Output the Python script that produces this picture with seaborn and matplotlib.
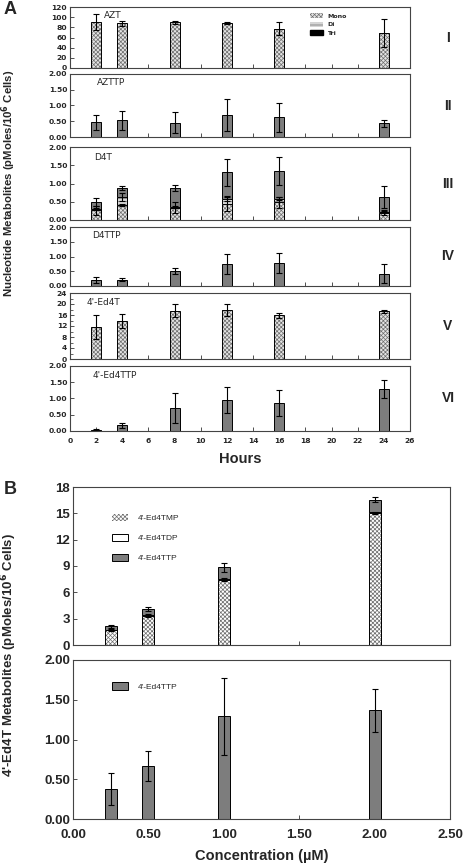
import numpy as np
import pandas as pd
import matplotlib
matplotlib.use("Agg")
import matplotlib.pyplot as plt
import matplotlib.transforms as mtransforms
import seaborn as sns
from matplotlib.patches import Patch
from matplotlib.ticker import MultipleLocator, FormatStrFormatter

# === Data: panel A (time course, hours) ===
hours = [2, 4, 8, 12, 16, 24]

azt_mono = [90, 88, 90, 88, 77, 69]
azt_mono_err = [16, 5, 3, 2, 13, 28]

azttp = [0.47, 0.53, 0.46, 0.70, 0.63, 0.43]
azttp_err = [0.24, 0.30, 0.34, 0.52, 0.46, 0.12]

d4t_mono = [0.27, 0.41, 0.33, 0.45, 0.49, 0.20]
d4t_mono_err = [0.12, 0.04, 0.15, 0.20, 0.15, 0.07]
d4t_di = [0.03, 0.22, 0.03, 0.13, 0.09, 0.03]
d4t_di_err = [0.02, 0.10, 0.02, 0.05, 0.04, 0.02]
d4t_tri = [0.19, 0.24, 0.52, 0.73, 0.76, 0.40]
d4t_total_err = [0.12, 0.05, 0.08, 0.37, 0.38, 0.31]

d4ttp = [0.20, 0.22, 0.50, 0.75, 0.78, 0.42]
d4ttp_err = [0.10, 0.05, 0.10, 0.35, 0.35, 0.33]

ed4t_mono = [11.5, 13.8, 17.6, 17.7, 15.9, 17.3]
ed4t_mono_err = [4.4, 2.6, 2.3, 2.2, 1.0, 0.4]

ed4ttp = [0.04, 0.17, 0.71, 0.95, 0.85, 1.28]
ed4ttp_err = [0.03, 0.08, 0.45, 0.40, 0.40, 0.28]

# === Data: panel B (concentration, uM) ===
conc = [0.25, 0.5, 1.0, 2.0]
b_tmp = [1.70, 3.35, 7.45, 15.05]
b_tdp = [0.05, 0.05, 0.10, 0.15]
b_ttp = [0.38, 0.67, 1.29, 1.37]
b_total_err = [0.20, 0.25, 0.55, 0.30]
b_tmp_err = [0.10, 0.15, 0.15, 0.10]
b_ttp_err = [0.20, 0.19, 0.48, 0.27]

sns.set_theme(style="ticks")
plt.rcParams['font.family'] = ['Liberation Sans', 'DejaVu Sans']
plt.rcParams['font.weight'] = 'bold'
plt.rcParams['hatch.linewidth'] = 0.5

W, H = 464, 866
fig = plt.figure(figsize=(W / 100, H / 100), dpi=100)

HATCH_GRAY = "#6e6e6e"
TRI_GRAY = "#7d7d7d"
MONO_FACE = "#e4e4e4"
DI_FACE = "#d6d6d6"
MONO_HATCH = "xxxxxxxx"
DI_HATCH = "-----"


def add_ax(left, right, top, bottom):
    return fig.add_axes([left / W, 1 - bottom / H, (right - left) / W, (bottom - top) / H])


def layer(ax, x, y, face, hatch, width):
    df = pd.DataFrame({"x": x, "y": y})
    common = dict(data=df, x="x", y="y", native_scale=True, width=width,
                  errorbar=None, saturation=1, ax=ax)
    if hatch:
        sns.barplot(color=face, hatch=hatch, edgecolor=HATCH_GRAY, linewidth=0, **common)
        sns.barplot(fill=False, color="black", linewidth=0.7, **common)
    else:
        sns.barplot(color=face, edgecolor="black", linewidth=0.7, **common)


def errs(ax, x, y, e):
    ax.errorbar(x, y, yerr=e, fmt="none", ecolor="black", elinewidth=0.8,
                capsize=2.2, capthick=0.8)


def style(ax, ymax, ystep, fmt, xmax, xstep, labelsize, family, show_x, xpad=2):
    ax.set_xlim(0, xmax)
    ax.set_ylim(0, ymax)
    ax.set(xlabel="", ylabel="")
    ax.xaxis.set_major_locator(MultipleLocator(xstep))
    ax.yaxis.set_major_locator(MultipleLocator(ystep))
    ax.yaxis.set_major_formatter(FormatStrFormatter(fmt))
    ax.tick_params(direction="in", length=3, width=0.6, color="#333333",
                   labelsize=labelsize, pad=2, top=False, right=False)
    ax.tick_params(axis="x", pad=xpad)
    for lbl in ax.get_xticklabels() + ax.get_yticklabels():
        lbl.set_family(family)
    if not show_x:
        ax.tick_params(labelbottom=False)
    for s in ax.spines.values():
        s.set_visible(True)
        s.set_linewidth(0.8)
        s.set_color("#444444")


A_FONT = ["DejaVu Sans"]
A_TICK = 5.4
BW_A = 0.385
BW_B = 0.32

# --- Panel A ---
rows = [(7, 68), (74, 137), (147, 220), (227, 286), (293, 359), (366, 431)]
axs = [add_ax(70, 410, t, b) for t, b in rows]

# I
ax = axs[0]
layer(ax, hours, azt_mono, MONO_FACE, MONO_HATCH, BW_A)
errs(ax, hours, azt_mono, azt_mono_err)
style(ax, 120, 20, "%d", 26, 2, A_TICK, A_FONT, False)
handles = [Patch(facecolor=MONO_FACE, edgecolor=HATCH_GRAY, hatch=MONO_HATCH, linewidth=0),
           Patch(facecolor=DI_FACE, edgecolor=HATCH_GRAY, hatch=DI_HATCH, linewidth=0),
           Patch(facecolor="black", edgecolor="black")]
ax.legend(handles, ["Mono", "Di", "Tri"], loc="upper left", bbox_to_anchor=(0.705, 0.9),
          frameon=False, borderaxespad=0, borderpad=0, handlelength=2.2,
          handleheight=0.9, labelspacing=0.45, handletextpad=0.6,
          prop={"size": 4.5, "weight": "bold", "family": "DejaVu Sans"})

# II
ax = axs[1]
layer(ax, hours, azttp, TRI_GRAY, None, BW_A)
errs(ax, hours, azttp, azttp_err)
style(ax, 2, 0.5, "%.2f", 26, 2, A_TICK, A_FONT, False)

# III (stacked)
ax = axs[2]
d4t_md = [m + d for m, d in zip(d4t_mono, d4t_di)]
d4t_tot = [m + t for m, t in zip(d4t_md, d4t_tri)]
layer(ax, hours, d4t_tot, TRI_GRAY, None, BW_A)
layer(ax, hours, d4t_md, DI_FACE, DI_HATCH, BW_A)
layer(ax, hours, d4t_mono, MONO_FACE, MONO_HATCH, BW_A)
errs(ax, hours, d4t_mono, d4t_mono_err)
errs(ax, hours, d4t_md, d4t_di_err)
errs(ax, hours, d4t_tot, d4t_total_err)
style(ax, 2, 0.5, "%.2f", 26, 2, A_TICK, A_FONT, False)

# IV
ax = axs[3]
layer(ax, hours, d4ttp, TRI_GRAY, None, BW_A)
errs(ax, hours, d4ttp, d4ttp_err)
style(ax, 2, 0.5, "%.2f", 26, 2, A_TICK, A_FONT, False)

# V
ax = axs[4]
layer(ax, hours, ed4t_mono, MONO_FACE, MONO_HATCH, BW_A)
errs(ax, hours, ed4t_mono, ed4t_mono_err)
style(ax, 24, 4, "%d", 26, 2, A_TICK, A_FONT, False)
ax.yaxis.set_minor_locator(MultipleLocator(2))
ax.tick_params(axis="y", which="minor", direction="in", length=2, width=0.5, right=False)

# VI
ax = axs[5]
layer(ax, hours, ed4ttp, TRI_GRAY, None, BW_A)
errs(ax, hours, ed4ttp, ed4ttp_err)
style(ax, 2, 0.5, "%.2f", 26, 2, A_TICK, A_FONT, True, xpad=5)
ax.set_xlabel("Hours", fontsize=10.5, fontweight="bold", labelpad=6)

names = ["AZT", "AZTTP", "D4T", "D4TTP", "4'-Ed4T", "4'-Ed4TTP"]
romans = ["I", "II", "III", "IV", "V", "VI"]
name_x = [0.10, 0.08, 0.07, 0.065, 0.05, 0.065]
for ax, nm, rn, nx in zip(axs, names, romans, name_x):
    ax.text(nx, 0.86, nm, transform=ax.transAxes, fontsize=6.5, fontweight="normal",
            family="DejaVu Sans", va="center", ha="left")
    tr = mtransforms.blended_transform_factory(fig.transFigure, ax.transAxes)
    ax.text(448 / W, 0.5, rn, transform=tr, fontsize=10, fontweight="bold",
            ha="center", va="center")

fig.text(9 / W, 1 - 183 / H, "Nucleotide Metabolites (pMoles/10$^{\\mathbf{6}}$ Cells)",
         rotation=90, fontsize=8.2, fontweight="bold", ha="center", va="center")
fig.text(10 / W, 1 - 9 / H, "A", fontsize=13, fontweight="bold", ha="center", va="center")

# --- Panel B ---
axt = add_ax(73, 450, 487, 645)
axb = add_ax(73, 450, 660, 819)

b_md = [m + d for m, d in zip(b_tmp, b_tdp)]
b_tot = [m + t for m, t in zip(b_md, b_ttp)]
layer(axt, conc, b_tot, TRI_GRAY, None, BW_B)
layer(axt, conc, b_md, "white", None, BW_B)
layer(axt, conc, b_tmp, "white", MONO_HATCH, BW_B)
errs(axt, conc, b_tmp, b_tmp_err)
errs(axt, conc, b_tot, b_total_err)
style(axt, 18, 3, "%d", 2.5, 0.5, 9.5, ["Liberation Sans"], False)
hb = [Patch(facecolor="white", edgecolor=HATCH_GRAY, hatch=MONO_HATCH, linewidth=0),
      Patch(facecolor="white", edgecolor="black", linewidth=0.7),
      Patch(facecolor=TRI_GRAY, edgecolor="black", linewidth=0.7)]
axt.legend(hb, ["4'-Ed4TMP", "4'-Ed4TDP", "4'-Ed4TTP"], loc="upper left",
           bbox_to_anchor=(0.103, 0.83), frameon=False, borderaxespad=0, borderpad=0,
           handlelength=2.0, handleheight=1.0, labelspacing=1.35, handletextpad=1.1,
           prop={"size": 6, "weight": "normal"})

layer(axb, conc, b_ttp, TRI_GRAY, None, BW_B)
errs(axb, conc, b_ttp, b_ttp_err)
style(axb, 2, 0.5, "%.2f", 2.5, 0.5, 9.5, ["Liberation Sans"], True, xpad=7)
axb.xaxis.set_major_formatter(FormatStrFormatter("%.2f"))
axb.set_xlabel("Concentration (\u00b5M)", fontsize=10.5, fontweight="bold", labelpad=6)
axb.legend([hb[2]], ["4'-Ed4TTP"], loc="upper left", bbox_to_anchor=(0.103, 0.86),
           frameon=False, borderaxespad=0, borderpad=0, handlelength=2.0,
           handleheight=1.0, handletextpad=1.1, prop={"size": 6, "weight": "normal"})

fig.text(9 / W, 1 - 655 / H, "4'-Ed4T Metabolites (pMoles/10$^{\\mathbf{6}}$ Cells)",
         rotation=90, fontsize=9.5, fontweight="bold", ha="center", va="center")
fig.text(10 / W, 1 - 489 / H, "B", fontsize=13, fontweight="bold", ha="center", va="center")

fig.savefig("out.png", dpi=100)
